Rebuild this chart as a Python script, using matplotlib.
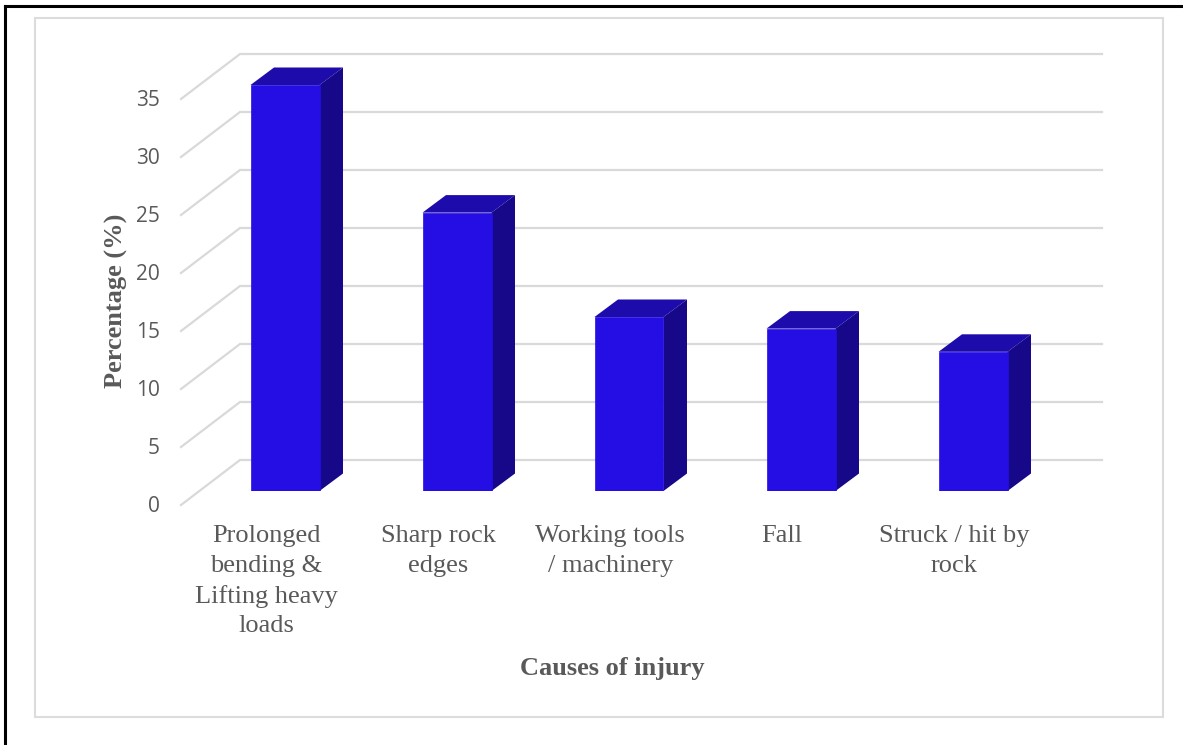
import matplotlib
matplotlib.use("Agg")
import matplotlib.pyplot as plt
from matplotlib.patches import Rectangle
from matplotlib.transforms import Affine2D

causes = [
    "Prolonged\nbending &\nLifting heavy\nloads",
    "Sharp rock\nedges",
    "Working tools\n/ machinery",
    "Fall",
    "Struck / hit by\nrock",
]
percent = [35, 24, 15, 14, 12]
ticks = [0, 5, 10, 15, 20, 25, 30, 35]

W, H = 1183, 745
front = "#240ee3"
side = "#170889"
top = "#1d0bab"
grid = "#d9d9d9"
text_grey = "#595959"

fig = plt.figure(figsize=(W / 100, H / 100), dpi=100)

# axes sits on the plane of the bar fronts, pixel box worked out from the picture
left, right = 199, 1059
y_zero, y_max = 491, 85
ax = fig.add_axes([left / W, 1 - y_zero / H, (right - left) / W, (y_zero - y_max) / H])
ax.set_xlim(-0.5, 4.5)
ax.set_ylim(0, 35)
ax.axis("off")

# page border and chart frame
fig.add_artist(plt.Line2D([5 / W, 5 / W], [0, 1 - 6 / H], color="black", lw=2.2))
fig.add_artist(plt.Line2D([5 / W, 1], [1 - 6 / H, 1 - 6 / H], color="black", lw=2.2))
fig.add_artist(Rectangle((35 / W, 1 - 717 / H), 1128 / W, 699 / H, transform=fig.transFigure,
                         fill=False, edgecolor="#dcdcdc", lw=1.5))

# back wall lines and the slanted side lines
wall_dx, wall_dy = 41, 31
side_dx, side_dy = -18, -14
wall = ax.transData + Affine2D().translate(43, wall_dy)
for t in ticks:
    ax.plot([-0.5, 4.5], [t, t], color=grid, lw=1.6, clip_on=False, transform=wall, zorder=1)
    x0, y0 = ax.transData.transform((-0.5, t))
    fig.add_artist(plt.Line2D([(x0 + side_dx) / W, (x0 + wall_dx) / W],
                              [(y0 + side_dy) / H, (y0 + wall_dy) / H], color=grid, lw=1.6, zorder=1))
    ax.annotate(str(t), xy=(-0.5, t), xytext=(-28.3, -11.2), textcoords="offset points",
                ha="right", va="center", fontsize=15, family="Open Sans", color=text_grey)

# bars with their top and side faces
bar_w = 69 / 172
dep_x, dep_y = 23.5, 17.5
inv = ax.transData.inverted()
for i, v in enumerate(percent):
    x0, x1 = i - bar_w / 2, i + bar_w / 2
    ax.bar(i, v, width=bar_w, color=front, edgecolor=front, lw=0.5, zorder=4)
    px0, py = ax.transData.transform((x0, v))
    px1, py0 = ax.transData.transform((x1, 0))
    tl = inv.transform((px0 + dep_x, py + dep_y))
    tr = inv.transform((px1 + dep_x, py + dep_y))
    br = inv.transform((px1 + dep_x, py0 + dep_y))
    ax.fill([x0, x1, tr[0], tl[0]], [v, v, tr[1], tl[1]], color=top, lw=0, zorder=3, clip_on=False)
    ax.fill([x1, tr[0], br[0], x1], [v, tr[1], br[1], 0], color=side, lw=0, zorder=3, clip_on=False)
    ax.annotate(causes[i], xy=(i, 0), xytext=(-13.5, -24.8), textcoords="offset points", ha="center", va="top",
                fontsize=19, family="Liberation Serif", color=text_grey, linespacing=1.44)

fig.text(612 / W, 1 - 669 / H, "Causes of injury", ha="center", va="center", fontsize=19,
         family="Liberation Serif", weight="bold", color=text_grey)
fig.text(116 / W, 1 - 301 / H, "Percentage (%)", ha="center", va="center", rotation=90, fontsize=19,
         family="Liberation Serif", weight="bold", color=text_grey)

fig.savefig("out.png", dpi=100)
